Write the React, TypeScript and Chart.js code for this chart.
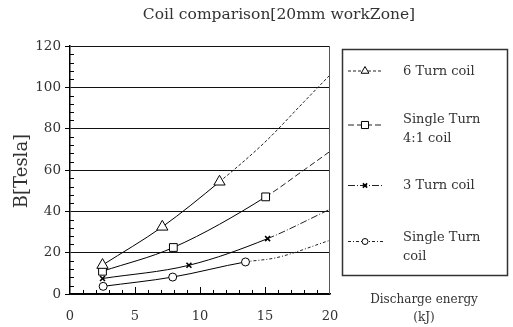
import React, { useEffect, useRef } from 'react';
import { Chart, registerables } from 'chart.js';
import { drawPoint } from 'chart.js/helpers';

Chart.register(...registerables);

const titleText = 'Coil comparison[20mm workZone]';
const yTitle = 'B[Tesla]';
const xTitleLines = ['Discharge energy', '(kJ)'];
const legendLabels = [['6 Turn coil'], ['Single Turn', '4:1 coil'], ['3 Turn coil'], ['Single Turn', 'coil']];

const xTicks = [0, 5, 10, 15, 20];
const yTicks = [0, 20, 40, 60, 80, 100, 120];

// 6 Turn coil (first 3 measured, rest extrapolated dashed)
const sixTurnX = [2.5, 7.1, 11.5, 15, 18, 20];
const sixTurnY = [14, 32.5, 54.3, 73.5, 93, 106];
const sixTurnMeasured = 3;

// Single Turn 4:1 coil
const single41X = [2.5, 7.95, 15.05, 18, 20];
const single41Y = [11, 22.5, 47, 60, 69];
const single41Measured = 3;

// 3 Turn coil
const threeTurnX = [2.5, 9.15, 15.2, 20];
const threeTurnY = [7.5, 13.9, 26.8, 41];
const threeTurnMeasured = 3;

// Single Turn coil
const singleX = [2.55, 7.9, 13.5, 15.9, 20];
const singleY = [3.7, 8.2, 15.5, 17.6, 26];
const singleMeasured = 3;

const FONT = 'DejaVu Serif';
const TEXT = '#333';

type Style = { pointStyle: any; radius: number; legendRadius: number; dash: number[]; bw: number };
const styles: Style[] = [
  { pointStyle: 'triangle', radius: 6.5, legendRadius: 4.5, dash: [3, 2], bw: 1 },
  { pointStyle: 'rect', radius: 5.5, legendRadius: 5, dash: [6, 3], bw: 1 },
  { pointStyle: 'crossRot', radius: 3.5, legendRadius: 3, dash: [7, 2, 1, 2], bw: 1.6 },
  { pointStyle: 'circle', radius: 4, legendRadius: 3, dash: [3, 2, 1, 2], bw: 1 },
];

function makeSet(label: string, xs: number[], ys: number[], measured: number, st: Style) {
  return {
    label,
    data: xs.map((x, i) => ({ x, y: ys[i] })),
    borderColor: '#000',
    borderWidth: 1,
    pointStyle: st.pointStyle,
    pointRadius: xs.map((_, i) => (i < measured ? st.radius : 0)),
    pointHoverRadius: 0,
    pointBackgroundColor: '#fff',
    pointBorderColor: '#000',
    pointBorderWidth: st.bw,
    cubicInterpolationMode: 'monotone',
    fill: false,
    segment: {
      borderDash: (ctx: any) => (ctx.p0DataIndex >= measured - 1 ? st.dash : undefined),
      borderColor: (ctx: any) => (ctx.p0DataIndex >= measured - 1 ? '#222' : undefined),
    },
  };
}

const decorPlugin = {
  id: 'decor',
  afterDraw(chart: any) {
    const ctx = chart.ctx as CanvasRenderingContext2D;
    const { left, right, top, bottom } = chart.chartArea;
    const xs = chart.scales.x;
    const ys = chart.scales.y;
    ctx.save();
    // right frame
    ctx.strokeStyle = '#555';
    ctx.lineWidth = 1;
    ctx.beginPath();
    ctx.moveTo(right - 0.5, top);
    ctx.lineTo(right - 0.5, bottom);
    ctx.stroke();
    // inward ticks on x
    ctx.strokeStyle = '#000';
    ctx.lineWidth = 1;
    for (let v = 1; v < 20; v++) {
      const px = Math.round(xs.getPixelForValue(v)) + 0.5;
      const len = v % 5 === 0 ? 7 : 4;
      ctx.beginPath();
      ctx.moveTo(px, bottom);
      ctx.lineTo(px, bottom - len);
      ctx.stroke();
    }
    // inward minor ticks on y
    for (let v = 4; v < 120; v += 4) {
      if (v % 20 === 0) continue;
      const py = Math.round(ys.getPixelForValue(v)) + 0.5;
      ctx.beginPath();
      ctx.moveTo(left, py);
      ctx.lineTo(left + 4, py);
      ctx.stroke();
    }
    // title
    ctx.fillStyle = TEXT;
    ctx.textAlign = 'center';
    ctx.textBaseline = 'middle';
    ctx.font = `15.5px "${FONT}"`;
    ctx.fillText(titleText, 279, 15);
    // y title
    ctx.save();
    ctx.translate(22, 171);
    ctx.rotate(-Math.PI / 2);
    ctx.font = `18px "${FONT}"`;
    ctx.fillText(yTitle, 0, 0);
    ctx.restore();
    // x title
    ctx.font = `12px "${FONT}"`;
    ctx.fillText(xTitleLines[0], 424, 300);
    ctx.fillText(xTitleLines[1], 424, 318);
    // legend box
    ctx.strokeStyle = '#333';
    ctx.lineWidth = 1.5;
    ctx.strokeRect(342.5, 49.5, 165, 226);
    const lineYs = [71, 125, 185.5, 241.5];
    const textYs = [[72], [120, 139], [185.5], [237.5, 257]];
    chart.data.datasets.forEach((ds: any, i: number) => {
      const st = styles[i];
      const y = lineYs[i];
      ctx.strokeStyle = '#222';
      ctx.lineWidth = 1;
      ctx.setLineDash(st.dash);
      ctx.beginPath();
      ctx.moveTo(348, y);
      ctx.lineTo(383, y);
      ctx.stroke();
      ctx.setLineDash([]);
      ctx.fillStyle = '#fff';
      ctx.strokeStyle = '#000';
      ctx.lineWidth = st.bw;
      drawPoint(ctx, { pointStyle: st.pointStyle, radius: st.legendRadius, rotation: 0, borderWidth: st.bw } as any, 365, y);
      ctx.fillStyle = TEXT;
      ctx.textAlign = 'left';
      ctx.font = `13px "${FONT}"`;
      legendLabels[i].forEach((t, j) => ctx.fillText(t, 403, textYs[i][j]));
    });
    ctx.restore();
  },
};

export default function App() {
  const ref = useRef<HTMLCanvasElement>(null);
  useEffect(() => {
    document.body.style.margin = '0';
    if (!ref.current) return;
    Chart.defaults.font.family = FONT;
    const chart = new Chart(ref.current, {
      type: 'line',
      data: {
        datasets: [
          makeSet(legendLabels[0].join(' '), sixTurnX, sixTurnY, sixTurnMeasured, styles[0]),
          makeSet(legendLabels[1].join(' '), single41X, single41Y, single41Measured, styles[1]),
          makeSet(legendLabels[2].join(' '), threeTurnX, threeTurnY, threeTurnMeasured, styles[2]),
          makeSet(legendLabels[3].join(' '), singleX, singleY, singleMeasured, styles[3]),
        ] as any,
      },
      options: {
        responsive: false,
        animation: false,
        devicePixelRatio: 1,
        events: [],
        layout: { padding: { top: 46, right: 183, left: 0, bottom: 0 } },
        plugins: {
          legend: { display: false },
          title: { display: false },
          tooltip: { enabled: false },
        },
        scales: {
          x: {
            type: 'linear',
            min: 0,
            max: 20,
            afterFit: (s: any) => { s.height = 33; },
            afterBuildTicks: (s: any) => { s.ticks = xTicks.map((v) => ({ value: v })); },
            ticks: { padding: 15, font: { family: FONT, size: 13 }, color: TEXT, maxRotation: 0, autoSkip: false },
            grid: { display: false, drawTicks: false },
            border: { display: true, color: '#000', width: 1.5 },
          },
          y: {
            type: 'linear',
            min: 0,
            max: 120,
            afterFit: (s: any) => { s.width = 70; },
            afterBuildTicks: (s: any) => { s.ticks = yTicks.map((v) => ({ value: v })); },
            ticks: { padding: 4, font: { family: FONT, size: 13.5 }, color: TEXT, autoSkip: false },
            grid: { color: '#111', lineWidth: 1, tickLength: 5, drawTicks: true, tickColor: '#000' },
            border: { display: true, color: '#000', width: 1.5 },
          },
        },
      } as any,
      plugins: [decorPlugin],
    });
    return () => chart.destroy();
  }, []);
  return <canvas ref={ref} width={513} height={327} style={{ display: 'block' }} />;
}
